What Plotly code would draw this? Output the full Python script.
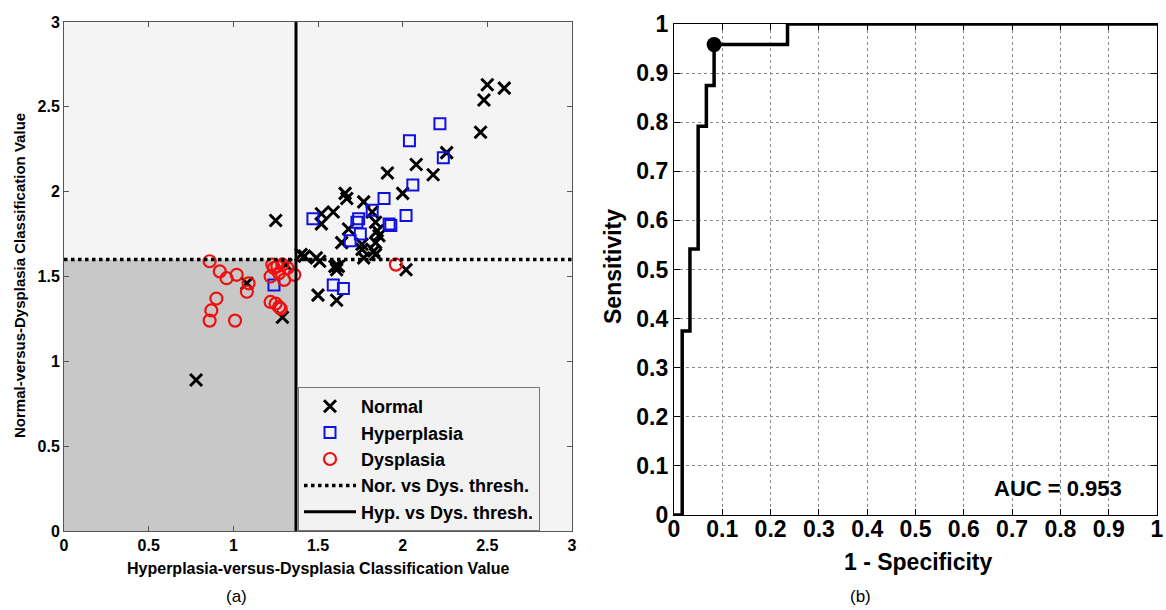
import plotly.graph_objects as go

# ---------------- data (a) ----------------
normal_x = [2.50, 2.60, 2.48, 2.46, 2.26, 2.08, 2.18, 1.91, 2.00, 1.66, 1.67, 1.77, 1.59, 1.52,
            1.52, 1.82, 1.84, 1.68, 1.85, 1.86, 1.64, 1.76, 1.76, 1.84, 1.83, 1.77, 1.84, 1.42,
            1.40, 1.49, 1.51, 1.60, 1.62, 1.61, 2.02, 1.50, 1.61, 1.29, 1.31, 1.08, 0.78, 1.25]
normal_y = [2.63, 2.61, 2.54, 2.35, 2.23, 2.16, 2.10, 2.11, 1.99, 1.99, 1.96, 1.94, 1.88, 1.87,
            1.81, 1.88, 1.82, 1.78, 1.77, 1.74, 1.70, 1.69, 1.66, 1.70, 1.65, 1.61, 1.63, 1.62,
            1.63, 1.61, 1.59, 1.56, 1.56, 1.54, 1.54, 1.39, 1.36, 1.26, 1.57, 1.46, 0.89, 1.83]

hyper_x = [2.22, 2.04, 2.24, 2.06, 1.89, 2.02, 1.92, 1.93, 1.82, 1.74, 1.73, 1.75, 1.69, 1.47,
           1.59, 1.65, 1.24]
hyper_y = [2.40, 2.30, 2.20, 2.04, 1.96, 1.86, 1.81, 1.80, 1.89, 1.84, 1.82, 1.75, 1.71, 1.84,
           1.45, 1.43, 1.45]

dys_x = [0.86, 0.92, 0.96, 1.02, 1.09, 1.08, 0.90, 0.87, 0.86, 1.01, 1.23, 1.24, 1.26, 1.29,
         1.32, 1.22, 1.30, 1.36, 1.22, 1.25, 1.27, 1.28, 1.96, 1.27]
dys_y = [1.59, 1.53, 1.49, 1.51, 1.46, 1.41, 1.37, 1.30, 1.24, 1.24, 1.57, 1.55, 1.56, 1.57,
         1.55, 1.50, 1.48, 1.51, 1.35, 1.34, 1.32, 1.31, 1.57, 1.52]

nor_dys_thresh = 1.60
hyp_dys_thresh = 1.37
axis_range_a = [0, 3]
ticks_a = [0, 0.5, 1, 1.5, 2, 2.5, 3]
tick_text_a = ["0", "0.5", "1", "1.5", "2", "2.5", "3"]

# ---------------- data (b) ----------------
roc_fpr = [0.0, 0.017, 0.033, 0.050, 0.067, 0.083, 0.235, 1.0]
roc_tpr = [0.0, 0.375, 0.542, 0.792, 0.875, 0.958, 1.0, 1.0]
op_fpr = [0.083]
op_tpr = [0.958]
auc_text = "AUC = 0.953"
ticks_b = [0, 0.1, 0.2, 0.3, 0.4, 0.5, 0.6, 0.7, 0.8, 0.9, 1]
tick_text_b = ["0", "0.1", "0.2", "0.3", "0.4", "0.5", "0.6", "0.7", "0.8", "0.9", "1"]

W, H = 1166, 610
FONT = "Liberation Sans, Arial, sans-serif"

fig = go.Figure()

# ---- left panel traces ----
fig.add_trace(go.Scatter(x=normal_x, y=normal_y, mode="markers", name="Normal",
                         marker=dict(symbol="x-thin", size=12, color="black",
                                     line=dict(color="black", width=3)),
                         xaxis="x", yaxis="y"))
fig.add_trace(go.Scatter(x=hyper_x, y=hyper_y, mode="markers", name="Hyperplasia",
                         marker=dict(symbol="square-open", size=11, color="#1010e0",
                                     line=dict(color="#1010e0", width=2)),
                         xaxis="x", yaxis="y"))
fig.add_trace(go.Scatter(x=dys_x, y=dys_y, mode="markers", name="Dysplasia",
                         marker=dict(symbol="circle-open", size=12, color="#ee1010",
                                     line=dict(color="#ee1010", width=2.2)),
                         xaxis="x", yaxis="y"))
fig.add_trace(go.Scatter(x=axis_range_a, y=[nor_dys_thresh, nor_dys_thresh], mode="lines",
                         name="Nor. vs Dys. thresh.",
                         line=dict(color="black", width=3.5, dash="dot"),
                         xaxis="x", yaxis="y"))
fig.add_trace(go.Scatter(x=[hyp_dys_thresh, hyp_dys_thresh], y=axis_range_a, mode="lines",
                         name="Hyp. vs Dys. thresh.",
                         line=dict(color="black", width=3),
                         xaxis="x", yaxis="y"))

# ---- right panel traces ----
fig.add_trace(go.Scatter(x=roc_fpr, y=roc_tpr, mode="lines", line_shape="hv",
                         line=dict(color="black", width=3.5), showlegend=False,
                         xaxis="x2", yaxis="y2"))
fig.add_trace(go.Scatter(x=op_fpr, y=op_tpr, mode="markers", showlegend=False,
                         marker=dict(symbol="circle", size=15, color="black"),
                         xaxis="x2", yaxis="y2"))

# domains from pixel positions
def xd(a, b):
    return [a / W, b / W]

def yd(top, bottom):
    return [1 - bottom / H, 1 - top / H]

ax_common_a = dict(range=axis_range_a, tickvals=ticks_a, ticktext=tick_text_a,
                   showgrid=False, zeroline=False, showline=True, linecolor="#555555",
                   linewidth=1, mirror="ticks", ticks="inside", ticklen=5,
                   tickcolor="#555555", automargin=False, ticklabeloverflow="allow",
                   tickfont=dict(family=FONT, size=16, color="black", weight="bold"))

ax_common_b = dict(range=[0, 1], tickvals=ticks_b, ticktext=tick_text_b,
                   showgrid=True, gridcolor="#8a8a8a", griddash="dot", gridwidth=1,
                   zeroline=False, showline=True, linecolor="black", linewidth=1.2,
                   mirror="ticks", ticks="inside", ticklen=6, tickcolor="black",
                   automargin=False, ticklabeloverflow="allow",
                   tickfont=dict(family=FONT, size=23, color="black", weight="bold"))

fig.update_layout(
    width=W, height=H, autosize=False,
    margin=dict(l=0, r=0, t=0, b=0),
    paper_bgcolor="white", plot_bgcolor="white",
    xaxis=dict(domain=xd(64, 572), anchor="y", **ax_common_a),
    yaxis=dict(domain=yd(22, 531), anchor="x", **ax_common_a),
    xaxis2=dict(domain=xd(674, 1157), anchor="y2", ticklabelstandoff=-7, **ax_common_b),
    yaxis2=dict(domain=yd(24, 515), anchor="x2", **ax_common_b),
    legend=dict(x=298 / W, y=1 - 387 / H, xanchor="left", yanchor="top",
                bgcolor="#f2f2f2", bordercolor="#777777", borderwidth=1,
                font=dict(family=FONT, size=18, color="black", weight="bold"),
                itemwidth=52, tracegroupgap=0),
    showlegend=True,
)

# backgrounds of panel (a)
fig.add_shape(type="rect", xref="x", yref="y", x0=0, x1=3, y0=0, y1=3,
              fillcolor="#f4f4f4", line=dict(width=0), layer="below")
fig.add_shape(type="rect", xref="x", yref="y", x0=0, x1=hyp_dys_thresh, y0=0,
              y1=nor_dys_thresh, fillcolor="#c8c8c8", line=dict(width=0), layer="below")

def label(text, px, py, size, bold=True, angle=0, xref="paper", yref="paper"):
    if xref == "paper":
        xv, yv = px / W, 1 - py / H
    else:
        xv, yv = px, py
    fig.add_annotation(text=text, xref=xref, yref=yref, x=xv, y=yv, showarrow=False,
                       xanchor="center", yanchor="middle", textangle=angle,
                       font=dict(family=FONT, size=size, color="black",
                                 weight="bold" if bold else "normal"))

label("Hyperplasia-versus-Dysplasia Classification Value", 318, 568, 16)
label("Normal-versus-Dysplasia Classification Value", 20, 276, 15, angle=-90)
label("1 - Specificity", 918, 562, 23)
label("Sensitivity", 613, 267, 23, angle=-90)
label(auc_text, 0.795, 0.053, 22, xref="x2", yref="y2")
label("(a)", 236, 596, 17, bold=False)
label("(b)", 860, 596, 17, bold=False)

fig.write_html("out.html", post_script="document.body.style.margin='0';",
               config={"displayModeBar": False})
